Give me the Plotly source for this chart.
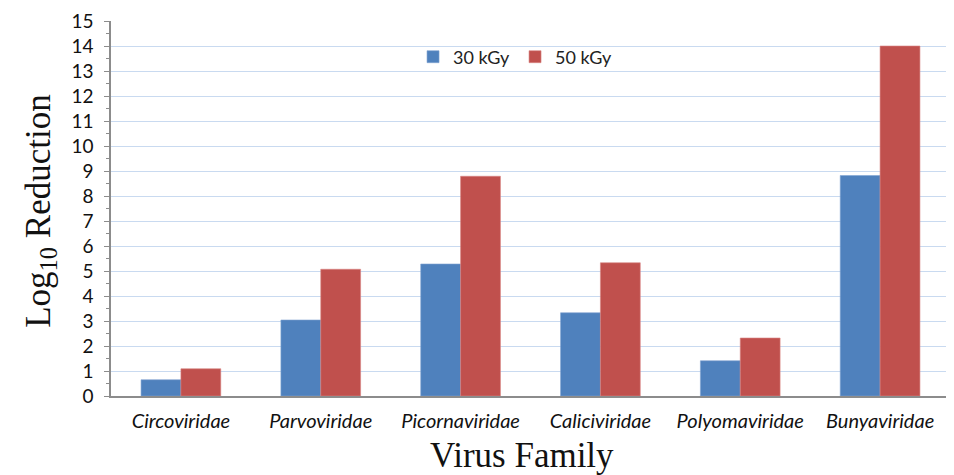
import plotly.graph_objects as go

families = ["Circoviridae", "Parvoviridae", "Picornaviridae", "Caliciviridae", "Polyomaviridae", "Bunyaviridae"]
dose_30 = [0.65, 3.04, 5.28, 3.33, 1.41, 8.82]
dose_50 = [1.09, 5.07, 8.79, 5.33, 2.32, 14.0]
y_ticks = list(range(0, 16))

SANS = "Lato, Open Sans, sans-serif"
SERIF = "Liberation Serif, Times New Roman, serif"

fig = go.Figure()
fig.add_trace(go.Bar(x=families, y=dose_30, name="30 kGy",
                     marker=dict(color="#4F81BD", line=dict(color="#7FA3D1", width=0.6))))
fig.add_trace(go.Bar(x=families, y=dose_50, name="50 kGy",
                     marker=dict(color="#C0504D", line=dict(color="#D98583", width=0.6))))

# page has an 8px body margin: figure is drawn at (8, 8)
fig.update_layout(
    width=946, height=467,
    margin=dict(l=103, r=4, t=13, b=79, autoexpand=False),
    paper_bgcolor="white", plot_bgcolor="white",
    barmode="group", bargap=0.43, bargroupgap=0,
    showlegend=True,
    legend=dict(orientation="h", x=0.36, y=0.904, xanchor="left", yanchor="middle",
                font=dict(family=SANS, size=18, color="#222"),
                itemwidth=30, entrywidth=57, entrywidthmode="pixels",
                bgcolor="rgba(0,0,0,0)", traceorder="normal"),
    xaxis=dict(
        showline=True, linecolor="#8C8C8C", linewidth=1.5, automargin=False,
        tickfont=dict(family=SANS, size=20, color="#111", style="italic"),
        ticks="", showgrid=False, ticklabelstandoff=6,
    ),
    yaxis=dict(
        range=[0, 15], tickvals=y_ticks, ticktext=[str(v) for v in y_ticks],
        showline=True, linecolor="#8C8C8C", linewidth=1.5, automargin=False,
        ticks="outside", ticklen=5, tickcolor="#8C8C8C", tickwidth=1.2,
        minor=dict(dtick=0.5, ticks="outside", ticklen=3, tickcolor="#8C8C8C", showgrid=False),
        showgrid=True, gridcolor="#C9DAF0", gridwidth=1.2,
        tickfont=dict(family=SANS, size=19, color="#111"), ticklabelstandoff=7,
    ),
    annotations=[
        dict(text="Virus Family", xref="paper", yref="paper", x=0.49, y=-0.16,
             xanchor="center", yanchor="middle", showarrow=False,
             font=dict(family=SERIF, size=35, color="#111")),
        dict(text="Log<sub>10</sub> Reduction", xref="paper", yref="paper", x=-0.085, y=0.493,
             xanchor="center", yanchor="middle", showarrow=False, textangle=-90,
             font=dict(family=SERIF, size=35, color="#111")),
    ],
)

fig.write_html("out.html")
